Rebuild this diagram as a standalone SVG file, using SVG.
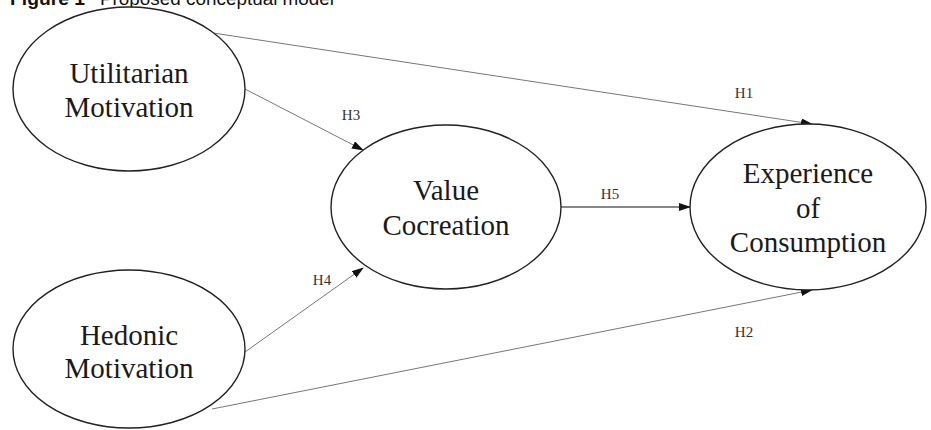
<svg xmlns="http://www.w3.org/2000/svg" width="931" height="430" viewBox="0 0 931 430">
<style>
.node{fill:#fff;stroke:#222;stroke-width:1.4}
.lbl{font-family:"Liberation Serif",serif;font-size:29px;fill:#1a1a1a;text-anchor:middle}
.h{font-family:"Liberation Serif",serif;font-size:15px;fill:#333;text-anchor:middle}
.c{stroke:#777;stroke-width:1;fill:none;marker-end:url(#ah)}
.c5{stroke:#111;stroke-width:1;fill:none;marker-end:url(#ah)}
.title{font-family:"Liberation Sans",sans-serif;font-size:18px;fill:#111}
</style>
<defs>
<marker id="ah" markerWidth="12" markerHeight="8" refX="11" refY="4" orient="auto" markerUnits="userSpaceOnUse">
<path d="M0,0 L12,4 L0,8 Z" fill="#111"/>
</marker>
</defs>
<rect width="931" height="430" fill="#fff"/>
<text class="title" y="5"><tspan x="10" font-weight="bold" textLength="75" lengthAdjust="spacingAndGlyphs">Figure 1</tspan><tspan x="100" textLength="234" lengthAdjust="spacingAndGlyphs">Proposed conceptual model</tspan></text>
<g id="connectors">
<line class="c" x1="213" y1="33" x2="812" y2="124"/>
<line class="c" x1="245" y1="89" x2="363" y2="150"/>
<line class="c" x1="245" y1="352" x2="363" y2="268"/>
<line class="c" x1="212" y1="409" x2="812" y2="290"/>
<line class="c5" x1="561" y1="207" x2="690" y2="207"/>
<text class="h" x="744" y="98">H1</text>
<text class="h" x="351" y="120">H3</text>
<text class="h" x="610" y="199">H5</text>
<text class="h" x="322" y="285">H4</text>
<text class="h" x="744" y="337">H2</text>
</g>
<g id="utilitarian">
<ellipse class="node" cx="129" cy="89" rx="116" ry="82"/>
<text class="lbl" x="129" y="83">Utilitarian</text>
<text class="lbl" x="129" y="117">Motivation</text>
</g>
<g id="hedonic">
<ellipse class="node" cx="129" cy="349" rx="116" ry="79"/>
<text class="lbl" x="129" y="345">Hedonic</text>
<text class="lbl" x="129" y="378">Motivation</text>
</g>
<g id="value">
<ellipse class="node" cx="446" cy="207" rx="115" ry="82"/>
<text class="lbl" x="446" y="200">Value</text>
<text class="lbl" x="446" y="235">Cocreation</text>
</g>
<g id="experience">
<ellipse class="node" cx="808" cy="207" rx="118" ry="83"/>
<text class="lbl" x="808" y="183">Experience</text>
<text class="lbl" x="808" y="218">of</text>
<text class="lbl" x="808" y="252">Consumption</text>
</g>
</svg>
